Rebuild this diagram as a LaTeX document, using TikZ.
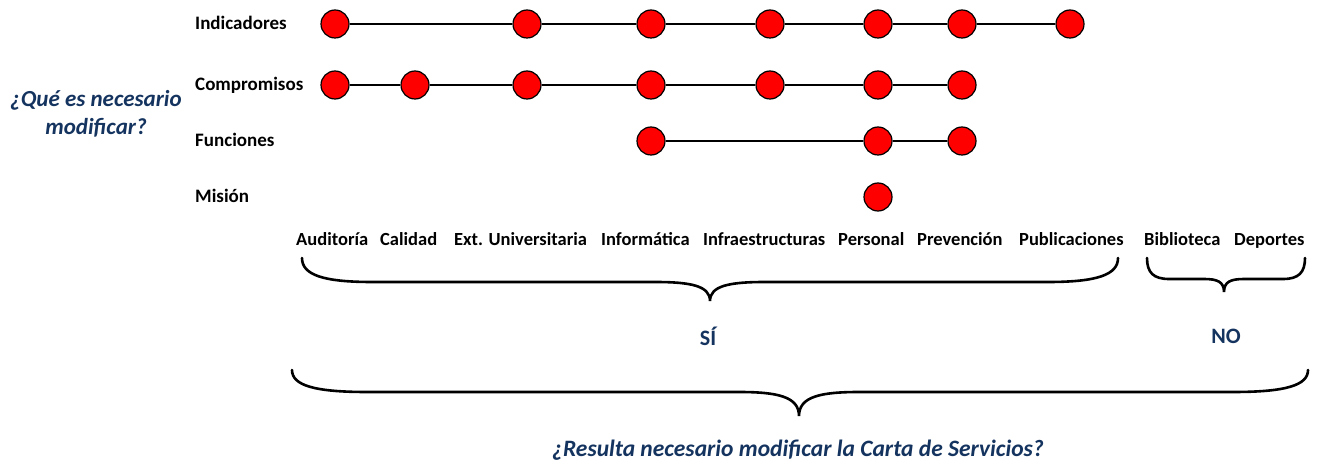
\documentclass[tikz,border=0pt]{standalone}
\usepackage{fontspec}
\setmainfont{Carlito}
\definecolor{qblue}{RGB}{20,52,95}
\newcommand\bracepath[8]{%
  \draw[brace] (#1,#4) .. controls (#1,{#5-0.3*(#5-#4)}) and ({#1+0.3*#7},#5) .. ({#1+#7},#5)
    -- ({#2-#8},#5) .. controls ({#2-0.35*#8},#5) and (#2,{#5+0.2*(#6-#5)}) .. (#2,#6)
    .. controls (#2,{#5+0.2*(#6-#5)}) and ({#2+0.35*#8},#5) .. ({#2+#8},#5)
    -- ({#3-#7},#5) .. controls ({#3-0.3*#7},#5) and (#3,{#5-0.3*(#5-#4)}) .. (#3,#4);}
\begin{document}
\begin{tikzpicture}[x=1pt,y=-1pt,
  dot/.style={circle,draw=black,line width=1.2pt,fill=red,minimum size=28pt,inner sep=0pt},
  link/.style={line width=1.3pt},
  rowlbl/.style={anchor=base west,font=\fontsize{19}{22}\selectfont\bfseries,inner sep=0pt},
  dept/.style={anchor=base west,font=\fontsize{18.5}{22}\selectfont\bfseries,inner sep=0pt},
  question/.style={text=qblue,font=\fontsize{23}{28}\selectfont\bfseries\itshape,align=center,inner sep=0pt},
  answer/.style={text=qblue,font=\fontsize{22}{24}\selectfont\bfseries,inner sep=0pt},
  brace/.style={line width=2.6pt,line cap=round}]
\useasboundingbox (0,0) rectangle (1319,462);

% row labels
\node[rowlbl] (lInd) at (195,30) {Indicadores};
\node[rowlbl] (lCom) at (195,91) {Compromisos};
\node[rowlbl] (lFun) at (195,147) {Funciones};
\node[rowlbl] (lMis) at (195,203) {Misión};

\node[question] (q1) at (96,114) {¿Qué es necesario\\modificar?};

% Indicadores
\node[dot] (i1) at (335,24) {};
\node[dot] (i2) at (527,24) {};
\node[dot] (i3) at (651,24) {};
\node[dot] (i4) at (770,24) {};
\node[dot] (i5) at (878,24) {};
\node[dot] (i6) at (962,24) {};
\node[dot] (i7) at (1070,24) {};
\draw[link] (i1) -- (i2) (i2) -- (i3) (i3) -- (i4) (i4) -- (i5) (i5) -- (i6) (i6) -- (i7);

% Compromisos
\node[dot] (c1) at (335,85) {};
\node[dot] (c2) at (415,85) {};
\node[dot] (c3) at (527,85) {};
\node[dot] (c4) at (651,85) {};
\node[dot] (c5) at (770,85) {};
\node[dot] (c6) at (878,85) {};
\node[dot] (c7) at (962,85) {};
\draw[link] (c1) -- (c2) (c2) -- (c3) (c3) -- (c4) (c4) -- (c5) (c5) -- (c6) (c6) -- (c7);

% Funciones
\node[dot] (f1) at (651,141) {};
\node[dot] (f2) at (878,141) {};
\node[dot] (f3) at (962,141) {};
\draw[link] (f1) -- (f2) (f2) -- (f3);

% Mision
\node[dot] (m1) at (878,197) {};

% departments
\node[dept] (dAud) at (296,246) {Auditoría};
\node[dept] (dCal) at (380,246) {Calidad};
\node[dept] (dExt) at (454,246) {Ext. Universitaria};
\node[dept] (dInf) at (601,246) {Informática};
\node[dept] (dIfr) at (703,246) {Infraestructuras};
\node[dept] (dPer) at (838,246) {Personal};
\node[dept] (dPre) at (917,246) {Prevención};
\node[dept] (dPub) at (1019,246) {Publicaciones};
\node[dept] (dBib) at (1144,246) {Biblioteca};
\node[dept] (dDep) at (1234,246) {Deportes};

% braces
\bracepath{302}{710}{1118}{258}{282}{301}{70}{55}
\bracepath{1147}{1224}{1305}{258}{279}{292}{22}{20}
\bracepath{292}{799}{1308}{370}{392}{416}{75}{60}

\node[answer] (si) at (708,336) {SÍ};
\node[answer] (no) at (1226,336) {NO};
\node[question,font=\fontsize{23.5}{26}\selectfont\bfseries\itshape] (q2) at (798,450) {¿Resulta necesario modificar la Carta de Servicios?};
\end{tikzpicture}
\end{document}
